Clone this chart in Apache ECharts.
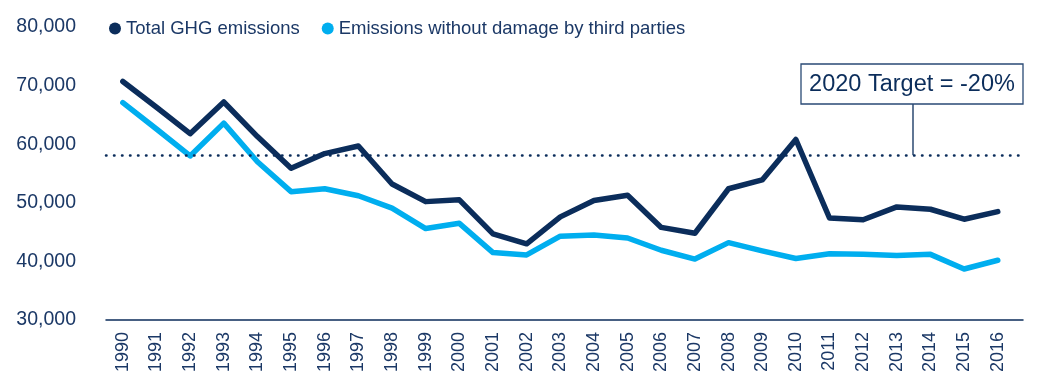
<!DOCTYPE html>
<html><head><meta charset="utf-8">
<script src="https://cdn.jsdelivr.net/npm/echarts@6/dist/echarts.min.js"></script>
<style>html,body{margin:0;padding:0;background:#fff}#c{width:1041px;height:381px}</style>
</head><body><div id="c"></div>
<script>
const years = [1990,1991,1992,1993,1994,1995,1996,1997,1998,1999,2000,2001,2002,2003,2004,2005,2006,2007,2008,2009,2010,2011,2012,2013,2014,2015,2016];
const totalGHG = [70700,66300,61800,67200,61300,55900,58400,59700,53200,50200,50500,44700,43000,47600,50400,51300,45800,44800,52400,53900,60800,47400,47100,49300,48900,47200,48500];
const withoutDamage = [67100,62600,58000,63600,57000,51900,52400,51200,49100,45600,46500,41500,41100,44300,44500,44000,41900,40400,43200,41800,40500,41300,41200,41000,41200,38700,40200];
const target = 58100;
const yTicks = {min:30000, max:80000, interval:10000};
const navy = '#0b2d5b', cyan = '#00aeef', txt = '#1b3866';
const ff = 'Liberation Sans, Arial, sans-serif';
const chart = echarts.init(document.getElementById('c'));
chart.setOption({
  animation:false,
  textStyle:{fontFamily:ff},
  grid:{left:106,right:18,top:27,bottom:61},
  legend:{left:104,top:14,itemWidth:12,itemHeight:12,itemGap:22,icon:'circle',
    textStyle:{color:txt,fontSize:18.5,fontFamily:ff},
    data:['Total GHG emissions','Emissions without damage by third parties']},
  xAxis:{type:'value',min:1989.5,max:2016.75,
    splitLine:{show:false},
    axisLine:{onZero:false,lineStyle:{color:navy,width:1.5}},axisTick:{show:false},
    axisLabel:{rotate:90,color:txt,fontSize:18,margin:12,customValues:years,formatter:v=>String(v)}},
  yAxis:{type:'value',min:yTicks.min,max:yTicks.max,interval:yTicks.interval,
    splitLine:{show:false},axisLine:{show:false},axisTick:{show:false},
    axisLabel:{color:txt,fontSize:19.5,margin:30,formatter:v=>v.toLocaleString('en-US')}},
  series:[
    {name:'Total GHG emissions',type:'line',data:years.map((y,i)=>[y,totalGHG[i]]),symbol:'none',z:3,
     itemStyle:{color:navy},lineStyle:{color:navy,width:5.5,cap:'round',join:'round'},
     markLine:{silent:true,symbol:'none',label:{show:false},
       lineStyle:{color:navy,type:[0.5,7.5],width:2.5,cap:'round'},data:[{yAxis:target}]}},
    {name:'Emissions without damage by third parties',type:'line',data:years.map((y,i)=>[y,withoutDamage[i]]),symbol:'none',z:2,
     itemStyle:{color:cyan},lineStyle:{color:cyan,width:5.5,cap:'round',join:'round'}}
  ],
  graphic:[
    {type:'line',shape:{x1:913,y1:104,x2:913,y2:155},style:{stroke:navy,lineWidth:1.3}},
    {type:'rect',shape:{x:801,y:64,width:222,height:40},style:{fill:'#fff',stroke:'#2a4a75',lineWidth:1.3}},
    {type:'text',x:912,y:85,style:{text:'2020 Target = -20%',fill:navy,fontSize:23.5,fontFamily:ff,align:'center',verticalAlign:'middle'}}
  ]
});
</script></body></html>
